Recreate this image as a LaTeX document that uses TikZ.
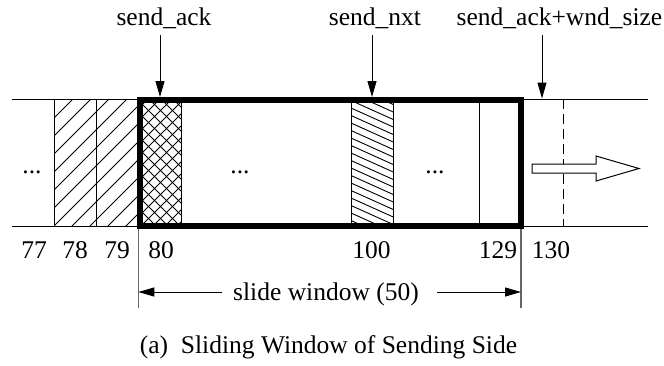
\documentclass[tikz,border=0pt]{standalone}
\usepackage{fontspec}
\setmainfont{Liberation Serif}
\usetikzlibrary{arrows.meta}
\begin{document}
\begin{tikzpicture}[x=1pt,y=-1pt,
  thinln/.style={line width=1pt},
  hatchln/.style={line width=0.9pt},
  lbl/.style={font=\fontsize{25.5}{30}\selectfont, inner sep=0pt, anchor=base},
  ptr/.style={line width=1pt, -{Triangle[length=16pt,width=9pt]}},
  tick/.style={line width=1.2pt, draw=black!60},
  ]
\useasboundingbox (0,0) rectangle (664,365);
% rails
\coordinate (TL) at (12,99);  \coordinate (TR) at (648,99);
\coordinate (BL) at (12,226); \coordinate (BR) at (648,226);
\draw[thinln] (TL) -- (TR);
\draw[thinln] (BL) -- (BR);
% hatched cells 78,79
\begin{scope}
  \clip (54,99) rectangle (139.5,226);
  \foreach \c in {100,118,...,340} \draw[hatchln] (44,\c+10) -- (150,\c-96);
\end{scope}
% crosshatched cell 80
\begin{scope}
  \clip (139.5,99) rectangle (181.5,226);
  \foreach \c in {95,107,...,290} \draw[hatchln] (130,\c+10) -- (190,\c-50);
  \foreach \c in {30,42,...,240} \draw[hatchln] (130,\c-10) -- (190,\c+50);
\end{scope}
% hatched cell 100
\begin{scope}
  \clip (351,99) rectangle (393,226);
  \foreach \c in {78,85.5,...,232} \draw[hatchln] (341,\c-4.5) -- (403,\c+23.4);
\end{scope}
% cell borders
\foreach \x in {54,96.5,181.5,351,393,479} \draw[thinln] (\x,99) -- (\x,226);
% dashed future boundary
\draw[thinln, dash pattern=on 10pt off 5pt] (563,99) -- (563,226);
% window box
\draw[line width=6pt] (139.5,99.5) rectangle (521,226);
% hollow arrow
\draw[thinln, fill=white] (532,164) -- (596,164) -- (596,156) -- (639,168.5)
  -- (596,181) -- (596,173) -- (532,173) -- cycle;
% dots
\node[lbl] (d1) at (32,173) {...};
\node[lbl] (d2) at (240,173) {...};
\node[lbl] (d3) at (435,173) {...};
% top labels and pointers
\node[lbl] (sa) at (164,25) {send\_ack};
\node[lbl] (sn) at (375,25) {send\_nxt};
\node[lbl] (sw) at (559.5,25) {send\_ack+wnd\_size};
\coordinate (p1s) at (160,35);  \coordinate (p1e) at (160,97);
\coordinate (p2s) at (372,35);  \coordinate (p2e) at (372,97);
\coordinate (p3s) at (542,35);  \coordinate (p3e) at (542,98.5);
\draw[ptr] (p1s) -- (p1e);
\draw[ptr] (p2s) -- (p2e);
\draw[ptr] (p3s) -- (p3e);
% sequence numbers
\node[lbl] (n77) at (34,258) {77};
\node[lbl] (n78) at (75,258) {78};
\node[lbl] (n79) at (117,258) {79};
\node[lbl] (n80) at (161,258) {80};
\node[lbl] (n100) at (371.5,258) {100};
\node[lbl] (n129) at (498,258) {129};
\node[lbl] (n130) at (551,258) {130};
% window extent ticks
\coordinate (t1a) at (138.3,229); \coordinate (t1b) at (138.3,308);
\coordinate (t2a) at (521,229);   \coordinate (t2b) at (521,308);
\draw[tick] (t1a) -- (t1b);
\draw[tick] (t2a) -- (t2b);
\node[lbl] (sw50) at (326,300) {slide window (50)};
\coordinate (wl) at (222,292); \coordinate (wr) at (437,292);
\coordinate (wl0) at (138.3,292); \coordinate (wr0) at (521,292);
\draw[ptr] (wl) -- (wl0);
\draw[ptr] (wr) -- (wr0);
% caption
\node[lbl] (cap) at (328.5,353) {(a)\ \ Sliding Window of Sending Side};
\end{tikzpicture}
\end{document}
